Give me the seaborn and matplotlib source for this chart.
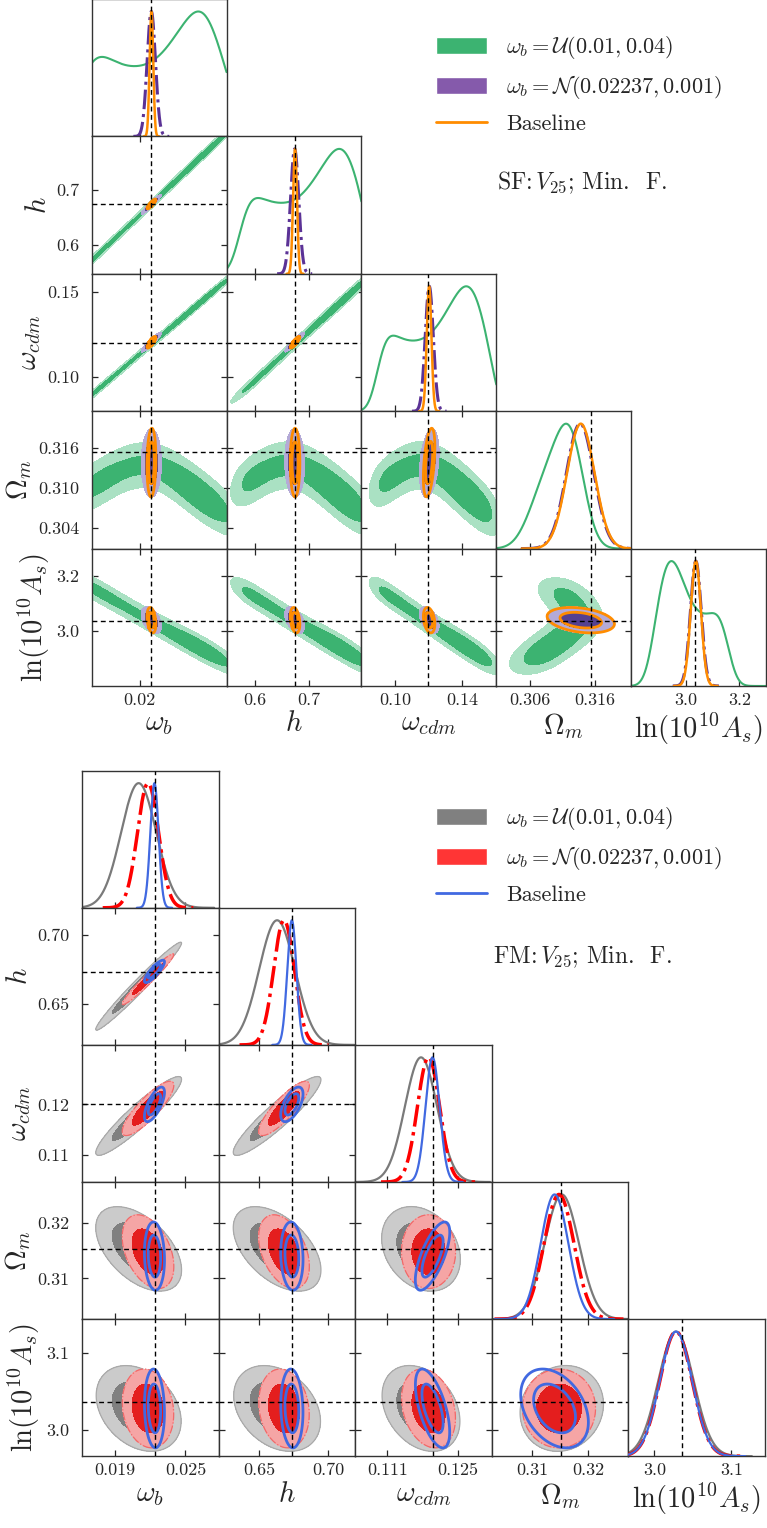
import math
import numpy as np
import matplotlib
matplotlib.use('Agg')
import matplotlib.pyplot as plt
from matplotlib.patches import Patch
from matplotlib.lines import Line2D
import seaborn as sns

# ---------------- data ----------------
labels = [r'$\omega_b$', r'$h$', r'$\omega_{cdm}$', r'$\Omega_m$', r'$\ln(10^{10}A_s)$']

# SF panel (top): axis ranges, truth, ticks
sf_ranges = [(0.0102, 0.0377), (0.548, 0.796), (0.0800, 0.1605), (0.3009, 0.3215), (2.797, 3.300)]
sf_truth = [0.02237, 0.6736, 0.1200, 0.3154, 3.036]
sf_xticks = [[0.02], [0.6, 0.7], [0.10, 0.14], [0.306, 0.316], [3.0, 3.2]]
sf_xtlabels = [['0.02'], ['0.6', '0.7'], ['0.10', '0.14'], ['0.306', '0.316'], ['3.0', '3.2']]
sf_yticks = [[], [0.6, 0.7], [0.10, 0.15], [0.304, 0.310, 0.316], [3.0, 3.2]]
sf_ytlabels = [[], ['0.6', '0.7'], ['0.10', '0.15'], ['0.304', '0.310', '0.316'], ['3.0', '3.2']]

# SF, uniform prior on omega_b: posterior follows a degeneracy track in omega_b
sfu_prior = (0.010, 0.040)
sfu_prior_soft = 0.0020
sfu_wb = [0.0100, 0.0145, 0.0190, 0.0235, 0.0280, 0.0325, 0.0365]
sfu_weight = [0.62, 0.45, 0.42, 0.45, 0.65, 0.90, 0.50]
sfu_h = [0.570, 0.608, 0.645, 0.683, 0.721, 0.759, 0.792]
sfu_wcdm = [0.0890, 0.1000, 0.1110, 0.1220, 0.1330, 0.1440, 0.1538]
sfu_Om = [0.3100, 0.3118, 0.3130, 0.3128, 0.3112, 0.3088, 0.3068]
sfu_lnAs = [3.160, 3.114, 3.068, 3.022, 2.978, 2.935, 2.895]
sfu_track_width = 0.0032
sfu_scatter = [0.0002, 0.0040, 0.0012, 0.0018, 0.022]

# SF, Gaussian prior on omega_b
sfn_mean = [0.02237, 0.6733, 0.1205, 0.3137, 3.038]
sfn_sigma = [0.00085, 0.0075, 0.0024, 0.0021, 0.020]
# correlations: (wb,h) (wb,wcdm) (wb,Om) (wb,lnAs) (h,wcdm) (h,Om) (h,lnAs) (wcdm,Om) (wcdm,lnAs) (Om,lnAs)
sfn_corr = [0.95, 0.92, 0.0, -0.45, 0.93, -0.05, -0.45, 0.3, -0.45, -0.25]

# SF baseline
sfb_mean = [0.02240, 0.6740, 0.1204, 0.3138, 3.038]
sfb_sigma = [0.00037, 0.0036, 0.0014, 0.0021, 0.019]
sfb_corr = [0.85, 0.8, 0.1, -0.3, 0.85, 0.0, -0.3, 0.45, -0.3, -0.3]

# FM panel (bottom)
fm_ranges = [(0.01616, 0.02783), (0.6206, 0.7196), (0.1046, 0.1318), (0.3027, 0.3273), (2.966, 3.144)]
fm_truth = [0.02237, 0.6736, 0.1200, 0.3152, 3.036]
fm_xticks = [[0.019, 0.025], [0.65, 0.70], [0.111, 0.125], [0.31, 0.32], [3.0, 3.1]]
fm_xtlabels = [['0.019', '0.025'], ['0.65', '0.70'], ['0.111', '0.125'], ['0.31', '0.32'], ['3.0', '3.1']]
fm_yticks = [[], [0.65, 0.70], [0.11, 0.12], [0.31, 0.32], [3.0, 3.1]]
fm_ytlabels = [[], ['0.65', '0.70'], ['0.11', '0.12'], ['0.31', '0.32'], ['3.0', '3.1']]

fmu_mean = [0.0210, 0.6630, 0.1177, 0.3153, 3.028]
fmu_sigma = [0.0015, 0.0130, 0.0032, 0.0031, 0.023]
fmu_corr = [0.98, 0.93, -0.5, -0.3, 0.92, -0.5, -0.3, -0.25, -0.3, 0.1]

fmn_mean = [0.0218, 0.6680, 0.1192, 0.3148, 3.028]
fmn_sigma = [0.0009, 0.0075, 0.0022, 0.0027, 0.021]
fmn_corr = [0.97, 0.85, -0.4, -0.15, 0.85, -0.4, -0.15, 0.0, -0.25, 0.0]

fmb_mean = [0.02235, 0.6737, 0.1200, 0.3140, 3.028]
fmb_sigma = [0.00035, 0.0033, 0.0014, 0.0025, 0.021]
fmb_corr = [0.85, 0.7, -0.1, -0.1, 0.6, -0.1, -0.1, 0.7, -0.6, -0.35]


# ---------------- helpers ----------------
_erf = np.vectorize(math.erf)


def cdf(z):
    return 0.5 * (1.0 + _erf(z / math.sqrt(2.0)))


def corr_matrix(vals):
    R = np.eye(5)
    k = 0
    for i in range(5):
        for j in range(i + 1, 5):
            R[i, j] = R[j, i] = vals[k]
            k += 1
    return R


def gauss_chain(mean, sigma, corr):
    C = np.outer(sigma, sigma) * corr_matrix(corr)
    return [(1.0, np.array(mean), C)]


def track_chain(wb, weight, h, wcdm, Om, lnAs, width, scatter):
    M = np.array([wb, h, wcdm, Om, lnAs]).T
    J = np.gradient(M, np.array(wb), axis=0)
    comps = []
    for k in range(len(wb)):
        C = width ** 2 * np.outer(J[k], J[k]) + np.diag(np.array(scatter) ** 2)
        comps.append((weight[k], M[k], C))
    return comps


def prior_factor(m, C, idx, pts, prior, soft):
    # probability that omega_b lies inside its (softened) prior, given the other coordinates
    c = C[np.ix_(idx, idx)]
    k = C[0, idx] @ np.linalg.inv(c)
    mu = m[0] + sum(k[n] * (pts[n] - m[idx[n]]) for n in range(len(idx)))
    s = math.sqrt(C[0, 0] - k @ C[idx, 0] + soft ** 2)
    return cdf((prior[1] - mu) / s) - cdf((prior[0] - mu) / s)


def extent(comps, i, rng, nsig):
    lo = min(m[i] - nsig * np.sqrt(C[i, i]) for w, m, C in comps)
    hi = max(m[i] + nsig * np.sqrt(C[i, i]) for w, m, C in comps)
    return max(lo, rng[0]), min(hi, rng[1])


def dens1d(chain, i, x):
    y = np.zeros_like(x)
    for w, m, C in chain['comps']:
        s = np.sqrt(C[i, i])
        g = w * np.exp(-0.5 * ((x - m[i]) / s) ** 2) / s
        if chain.get('prior') and i != 0:
            g = g * prior_factor(m, C, [i], [x], chain['prior'], chain['soft'])
        y += g
    return y


def dens2d(chain, i, j, X, Y):
    Z = np.zeros_like(X)
    for w, m, C in chain['comps']:
        c = C[np.ix_([i, j], [i, j])]
        inv = np.linalg.inv(c)
        dx, dy = X - m[i], Y - m[j]
        q = inv[0, 0] * dx ** 2 + 2 * inv[0, 1] * dx * dy + inv[1, 1] * dy ** 2
        g = w * np.exp(-0.5 * q) / np.sqrt(np.linalg.det(c))
        if chain.get('prior') and i != 0 and j != 0:
            g = g * prior_factor(m, C, [i, j], [X, Y], chain['prior'], chain['soft'])
        Z += g
    return Z


def conf_levels(Z):
    z = np.sort(Z.ravel())[::-1]
    c = np.cumsum(z)
    c /= c[-1]
    return z[np.searchsorted(c, 0.95)], z[np.searchsorted(c, 0.68)]


def draw_2d(ax, chain, i, j, ranges):
    st = chain['style']
    x0, x1 = extent(chain['comps'], i, ranges[i], 5)
    y0, y1 = extent(chain['comps'], j, ranges[j], 5)
    n = 260
    X, Y = np.meshgrid(np.linspace(x0, x1, n), np.linspace(y0, y1, n))
    Z = dens2d(chain, i, j, X, Y)
    l95, l68 = conf_levels(Z)
    if st['kind'] == 'fill':
        ax.contourf(X, Y, Z, levels=[l95, l68, Z.max() * 1.01],
                    colors=[st['light'], st['dark']], zorder=st['z'])
        if st.get('edge'):
            ax.contour(X, Y, Z, levels=[l95], colors=[st['edge']], linewidths=0.9,
                       linestyles=st.get('edge_ls', '-'), zorder=st['z'])
    else:
        ax.contour(X, Y, Z, levels=[l95, l68], colors=[st['line'], st['line']],
                   linewidths=2.0, zorder=st['z'])


def draw_1d(ax, chain, i, ranges):
    st = chain['style']
    x0, x1 = extent(chain['comps'], i, ranges[i], 4.3)
    x = np.linspace(x0, x1, 800)
    y = dens1d(chain, i, x)
    y = y / y.max()
    sns.lineplot(x=x, y=y, ax=ax, color=st['line'], linewidth=st['lw1d'],
                 linestyle=st['ls1d'], estimator=None, sort=False, legend=False,
                 zorder=st['z'] + 1)


W, H = 767, 1528


def corner(fig, chains, X0, Y0, DX, DY, ranges, truth, xticks, xtl, yticks, ytl):
    for r in range(5):
        for c in range(r + 1):
            ax = fig.add_axes([(X0 + c * DX) / W, 1 - (Y0 + (r + 1) * DY) / H, DX / W, DY / H])
            ax.set_xlim(ranges[c])
            for sp in ax.spines.values():
                sp.set_color('#333333')
                sp.set_linewidth(1.0)
            if r == c:
                for ch in chains:
                    draw_1d(ax, ch, c, ranges)
                ax.set_ylim(0, 1.1)
                ax.set_yticks([])
                ax.tick_params(axis='x', direction='in', length=4.5, width=0.9, top=False)
            else:
                for ch in chains:
                    draw_2d(ax, ch, c, r, ranges)
                ax.set_ylim(ranges[r])
                ax.axhline(truth[r], color='k', ls=(0, (3.5, 2.5)), lw=1.0, zorder=10)
                ax.set_yticks(yticks[r])
                ax.set_yticklabels(ytl[r])
                ax.tick_params(direction='in', length=4.5, width=0.9, top=True, right=True)
            ax.axvline(truth[c], color='k', ls=(0, (3.5, 2.5)), lw=1.0, zorder=10)
            ax.set_xticks(xticks[c])
            ax.set_xticklabels(xtl[c])
            ax.tick_params(labelsize=13)
            ax.tick_params(axis='y', pad=9)
            ax.tick_params(axis='x', pad=5)
            ax.set_xlabel('')
            ax.set_ylabel('')
            if r < 4:
                ax.tick_params(labelbottom=False)
            else:
                ax.set_xlabel(labels[c], fontsize=20.5, labelpad=2)
            if c > 0 or r == 0:
                ax.tick_params(labelleft=False)
            else:
                ax.set_ylabel(labels[r], fontsize=20.5, labelpad=3)


# ---------------- figure ----------------
sns.set_style('ticks')
plt.rcParams.update({
    'font.family': ['cmr10', 'DejaVu Serif'],
    'mathtext.fontset': 'cm',
    'axes.unicode_minus': False,
    'axes.formatter.use_mathtext': True,
})

fig = plt.figure(figsize=(W / 100, H / 100), dpi=100)

sf_chains = [
    dict(comps=track_chain(sfu_wb, sfu_weight, sfu_h, sfu_wcdm, sfu_Om, sfu_lnAs,
                           sfu_track_width, sfu_scatter),
         prior=sfu_prior, soft=sfu_prior_soft,
         style=dict(kind='fill', light='#aae1c3', dark='#3cb371', line='#3cb371',
                    lw1d=1.5, ls1d='-', z=1)),
    dict(comps=gauss_chain(sfn_mean, sfn_sigma, sfn_corr),
         style=dict(kind='fill', light='#b4aad7', dark='#554191', line='#5b3296',
                    lw1d=2.2, ls1d='-.', z=3)),
    dict(comps=gauss_chain(sfb_mean, sfb_sigma, sfb_corr),
         style=dict(kind='line', line='#ff8c00', lw1d=1.8, ls1d='-', z=5)),
]
fm_chains = [
    dict(comps=gauss_chain(fmu_mean, fmu_sigma, fmu_corr),
         style=dict(kind='fill', light='#cbcbcb', dark='#808080', edge='#a9a9a9', line='#7a7a7a',
                    lw1d=1.6, ls1d='-', z=1)),
    dict(comps=gauss_chain(fmn_mean, fmn_sigma, fmn_corr),
         style=dict(kind='fill', light='#f5a5a5', dark='#e41e1e', edge='#f06a6a', edge_ls='-.',
                    line='red', lw1d=2.5, ls1d='-.', z=3)),
    dict(comps=gauss_chain(fmb_mean, fmb_sigma, fmb_corr),
         style=dict(kind='line', line='#4169e1', lw1d=1.6, ls1d='-', z=5)),
]

corner(fig, sf_chains, 91.6, -1.0, 134.9, 137.4, sf_ranges, sf_truth,
       sf_xticks, sf_xtlabels, sf_yticks, sf_ytlabels)
corner(fig, fm_chains, 82.0, 770.7, 136.6, 137.1, fm_ranges, fm_truth,
       fm_xticks, fm_xtlabels, fm_yticks, fm_ytlabels)

# legends and annotations
leg_kw = dict(loc='upper left', frameon=False, fontsize=16, handlelength=2.3, handleheight=0.8,
              handletextpad=0.85, labelspacing=0.55, borderpad=0, borderaxespad=0)
leg_labels = [r'$\omega_b = \mathcal{U}(0.01, 0.04)$', r'$\omega_b = \mathcal{N}(0.02237, 0.001)$', 'Baseline']
fig.legend([Patch(facecolor='#3cb371'), Patch(facecolor='#855aab'), Line2D([], [], color='#ff8c00', lw=2)],
           leg_labels, bbox_to_anchor=(436 / W, 1 - 34 / H), **leg_kw)
fig.legend([Patch(facecolor='#808080'), Patch(facecolor='#ff3535'), Line2D([], [], color='#4169e1', lw=2)],
           leg_labels, bbox_to_anchor=(436 / W, 1 - 805 / H), **leg_kw)

fig.text(582 / W, 1 - 183 / H, r'SF:$\,V_{25}$; Min.  F.', ha='center', va='center', fontsize=17)
fig.text(582 / W, 1 - 957 / H, r'FM:$\,V_{25}$; Min.  F.', ha='center', va='center', fontsize=17)

fig.savefig('out.png', dpi=100)
